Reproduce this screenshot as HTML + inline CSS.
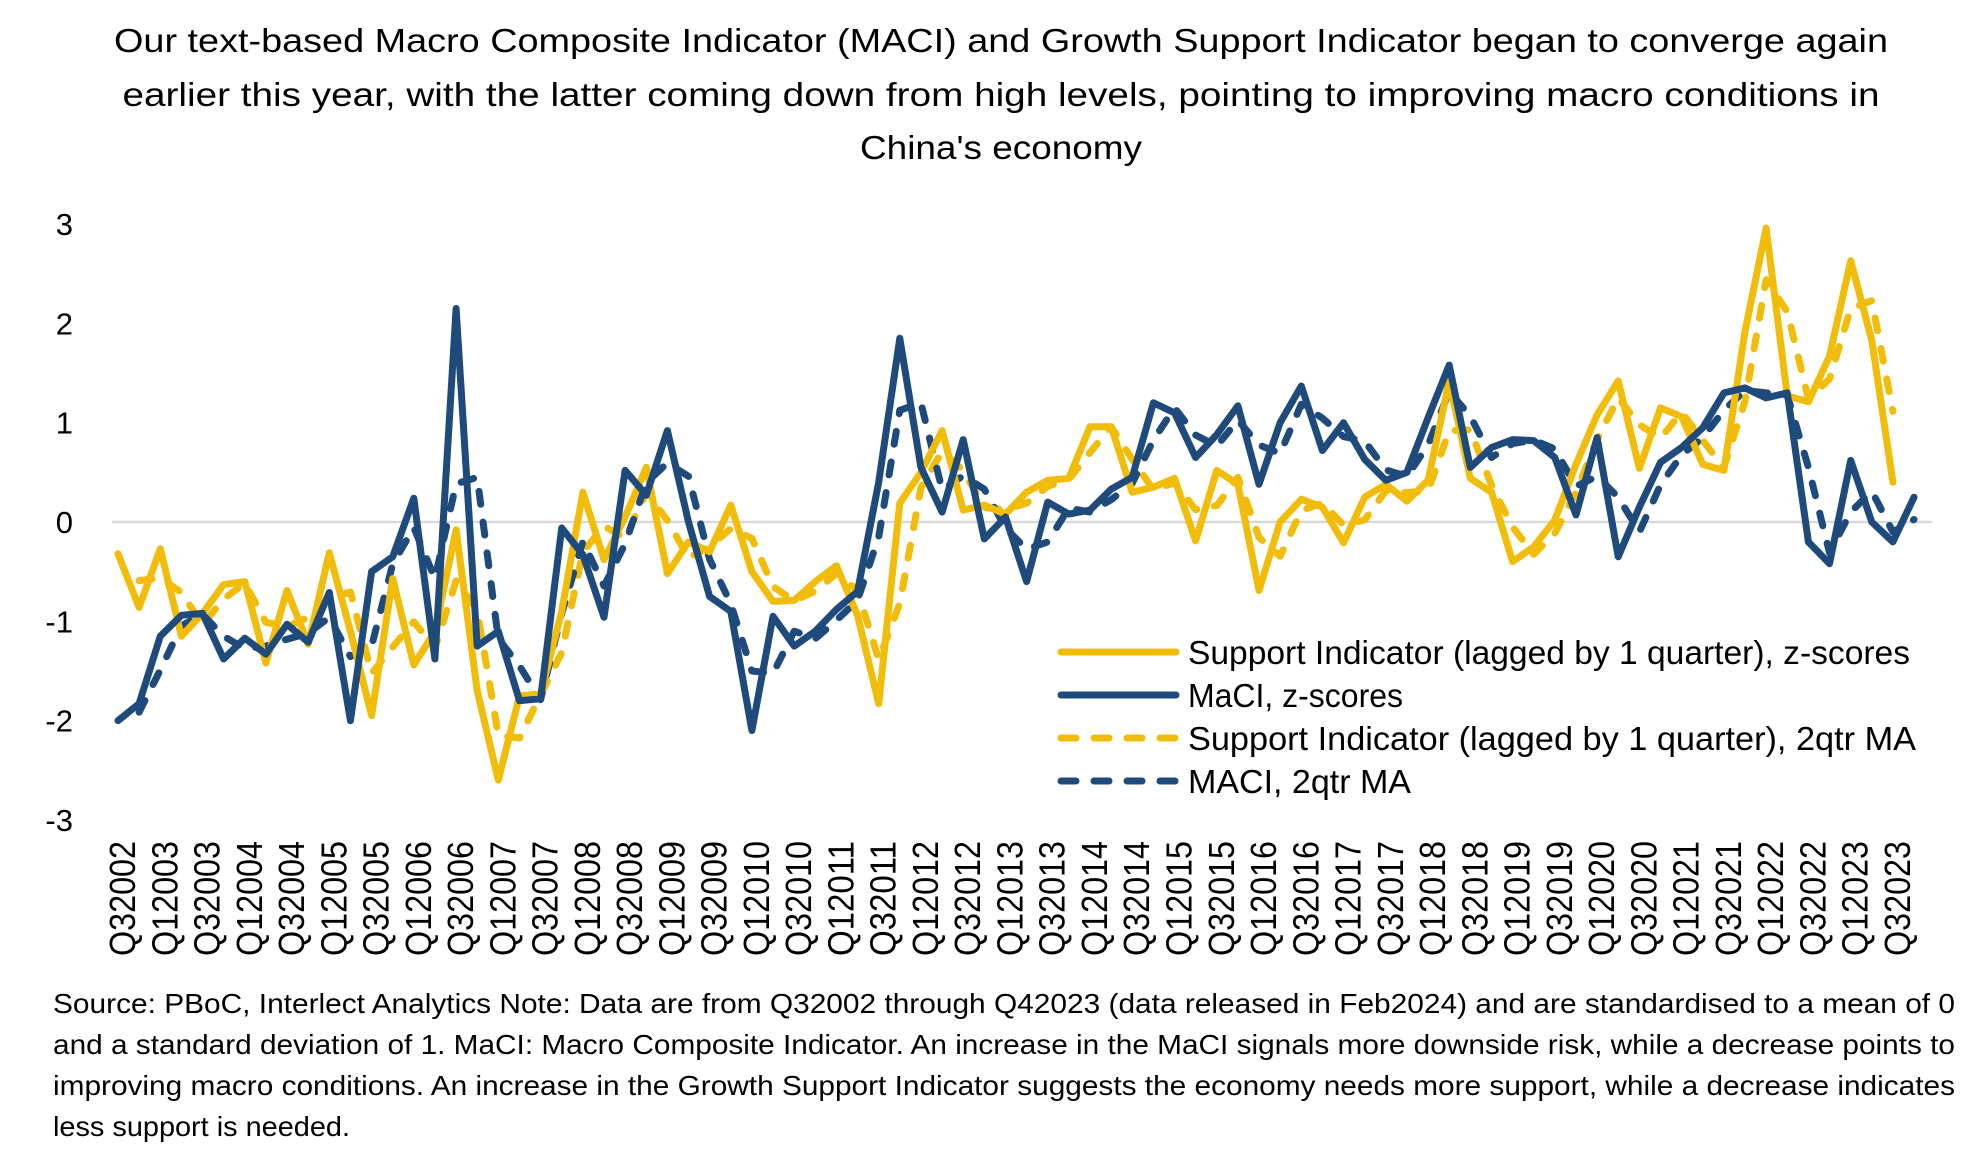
<!DOCTYPE html>
<html><head><meta charset="utf-8"><style>
html,body{margin:0;padding:0;background:#fff;}
svg{display:block;font-family:"Liberation Sans",Carlito,sans-serif;}
</style></head><body>
<svg id="chart" width="1980" height="1162" viewBox="0 0 1980 1162" xmlns="http://www.w3.org/2000/svg">
<g font-size="33" fill="#000" text-anchor="middle">
<text x="1001" y="52" textLength="1774" lengthAdjust="spacingAndGlyphs">Our text-based Macro Composite Indicator (MACI) and Growth Support Indicator began to converge again</text>
<text x="1001" y="106" textLength="1757" lengthAdjust="spacingAndGlyphs">earlier this year, with the latter coming down from high levels, pointing to improving macro conditions in</text>
<text x="1001" y="159" textLength="282" lengthAdjust="spacingAndGlyphs">China's economy</text>
</g>
<line x1="112" x2="1932" y1="522" y2="522" stroke="#D9D9D9" stroke-width="2.5"/>
<g id="yticks"></g>
<g id="xticks"></g>
<g id="series"></g>
<g font-size="33" fill="#000">
<g>
<line x1="1061" x2="1176" y1="652" y2="652" stroke="#F2BC0B" stroke-width="7" stroke-linecap="round"/>
<text x="1188" y="664" textLength="722" lengthAdjust="spacingAndGlyphs">Support Indicator (lagged by 1 quarter), z-scores</text></g>
<g>
<line x1="1061" x2="1176" y1="695" y2="695" stroke="#1F4A7C" stroke-width="7" stroke-linecap="round"/>
<text x="1188" y="707" textLength="215" lengthAdjust="spacingAndGlyphs">MaCI, z-scores</text></g>
<g>
<line x1="1061" x2="1176" y1="738" y2="738" stroke="#F2BC0B" stroke-width="7" stroke-linecap="round" stroke-dasharray="15 18"/>
<text x="1188" y="750" textLength="728" lengthAdjust="spacingAndGlyphs">Support Indicator (lagged by 1 quarter), 2qtr MA</text></g>
<g>
<line x1="1061" x2="1176" y1="781" y2="781" stroke="#1F4A7C" stroke-width="7" stroke-linecap="round" stroke-dasharray="15 18"/>
<text x="1188" y="793" textLength="223" lengthAdjust="spacingAndGlyphs">MACI, 2qtr MA</text></g>
</g>
<g font-size="28" fill="#000">
<text x="53" y="1013" textLength="1902" lengthAdjust="spacingAndGlyphs">Source: PBoC, Interlect Analytics  Note: Data are from Q32002 through Q42023 (data released in Feb2024) and are standardised to a mean of 0</text>
<text x="53" y="1054" textLength="1902" lengthAdjust="spacingAndGlyphs">and a standard deviation of 1. MaCI: Macro Composite Indicator. An increase in the MaCI signals more downside risk, while a decrease points to</text>
<text x="53" y="1095" textLength="1902" lengthAdjust="spacingAndGlyphs">improving macro conditions. An increase in the Growth Support Indicator suggests the economy needs more support, while a decrease indicates</text>
<text x="53" y="1136" textLength="297" lengthAdjust="spacingAndGlyphs">less support is needed.</text>
</g>
</svg>
<script>
const yTickValues = [3, 2, 1, 0, -1, -2, -3];
const support = [-0.32,-0.86,-0.27,-1.15,-0.92,-0.63,-0.6,-1.42,-0.69,-1.23,-0.31,-1.1,-1.95,-0.57,-1.44,-1.1,-0.08,-1.7,-2.6,-1.75,-1.73,-0.9,0.3,-0.38,0.05,0.55,-0.52,-0.2,-0.3,0.17,-0.5,-0.8,-0.79,-0.6,-0.44,-0.94,-1.83,0.19,0.5,0.92,0.12,0.17,0.08,0.3,0.42,0.44,0.96,0.96,0.3,0.35,0.44,-0.19,0.52,0.38,-0.69,0.0,0.23,0.15,-0.21,0.25,0.38,0.21,0.42,1.42,0.44,0.3,-0.4,-0.25,0.02,0.58,1.08,1.42,0.54,1.15,1.06,0.58,0.52,1.92,2.96,1.27,1.21,1.67,2.63,1.83,0.4,null];
const maci = [-2.0,-1.83,-1.15,-0.94,-0.92,-1.38,-1.17,-1.33,-1.03,-1.21,-0.71,-2.0,-0.5,-0.35,0.24,-1.38,2.15,-1.25,-1.1,-1.8,-1.78,-0.06,-0.33,-0.96,0.52,0.27,0.92,0.0,-0.75,-0.9,-2.1,-0.95,-1.25,-1.1,-0.88,-0.7,0.4,1.85,0.55,0.1,0.83,-0.17,0.05,-0.6,0.2,0.08,0.12,0.33,0.45,1.2,1.1,0.65,0.88,1.17,0.38,1.0,1.37,0.72,1.0,0.63,0.42,0.5,1.05,1.58,0.55,0.75,0.83,0.82,0.65,0.07,0.85,-0.35,0.15,0.6,0.75,0.95,1.3,1.35,1.25,1.3,-0.2,-0.42,0.62,0.0,-0.2,0.25];
const supportMA = [null,-0.59,-0.565,-0.71,-1.035,-0.775,-0.615,-1.01,-1.055,-0.96,-0.77,-0.705,-1.525,-1.26,-1.005,-1.27,-0.59,-0.89,-2.15,-2.175,-1.74,-1.315,-0.3,-0.04,-0.165,0.3,0.015,-0.36,-0.25,-0.065,-0.165,-0.65,-0.795,-0.695,-0.52,-0.69,-1.385,-0.82,0.345,0.71,0.52,0.145,0.125,0.19,0.36,0.43,0.7,0.96,0.63,0.325,0.395,0.125,0.165,0.45,-0.155,-0.345,0.115,0.19,-0.03,0.02,0.315,0.295,0.315,0.92,0.93,0.37,-0.05,-0.325,-0.115,0.3,0.83,1.25,0.98,0.845,1.105,0.82,0.55,1.22,2.44,2.115,1.24,1.44,2.15,2.23,1.115,null];
const maciMA = [null,-1.915,-1.49,-1.045,-0.93,-1.15,-1.275,-1.25,-1.18,-1.12,-0.96,-1.355,-1.25,-0.425,-0.055,-0.57,0.385,0.45,-1.175,-1.45,-1.79,-0.92,-0.195,-0.645,-0.22,0.395,0.595,0.46,-0.375,-0.825,-1.5,-1.525,-1.1,-1.175,-0.99,-0.79,-0.15,1.125,1.2,0.325,0.465,0.33,-0.06,-0.275,-0.2,0.14,0.1,0.225,0.39,0.825,1.15,0.875,0.765,1.025,0.775,0.69,1.185,1.045,0.86,0.815,0.525,0.46,0.775,1.315,1.065,0.65,0.79,0.825,0.735,0.36,0.46,0.25,-0.1,0.375,0.675,0.85,1.125,1.325,1.3,1.275,0.55,-0.31,0.1,0.31,-0.1,0.025];
const startYear = 2002, startQuarter = 3;

const NS = 'http://www.w3.org/2000/svg';
const n = maci.length;
const X0 = 118, XSTEP = 21.13, Y0 = 522, YUNIT = 99.3;
function xPos(i){ return X0 + i * XSTEP; }
function yPos(v){ return Y0 - v * YUNIT; }
function quarterLabel(i){
  const t = (startQuarter - 1) + i;
  return 'Q' + (t % 4 + 1) + (startYear + Math.floor(t / 4));
}

const yG = document.getElementById('yticks');
yTickValues.forEach(v => {
  const t = document.createElementNS(NS, 'text');
  
  
  t.setAttribute('x', 73);
  t.setAttribute('y', yPos(v) + 11);
  t.setAttribute('text-anchor', 'end');
  t.setAttribute('font-size', '31');
  t.textContent = String(v);
  yG.appendChild(t);
});

const xG = document.getElementById('xticks');
for (let i = 0; i < n; i += 2) {
  const t = document.createElementNS(NS, 'text');
  
  
  const bx = xPos(i) + 17, by = 841;
  t.setAttribute('x', bx);
  t.setAttribute('y', by);
  t.setAttribute('text-anchor', 'end');
  t.setAttribute('font-size', '36');
  t.setAttribute('textLength', '115');
  t.setAttribute('lengthAdjust', 'spacingAndGlyphs');
  t.setAttribute('transform', 'rotate(-90 ' + bx + ' ' + by + ')');
  t.textContent = quarterLabel(i);
  xG.appendChild(t);
}

function pathFor(arr){
  let d = '', pen = false;
  arr.forEach((v, i) => {
    if (v === null || v === undefined) { pen = false; return; }
    d += (pen ? 'L' : 'M') + xPos(i).toFixed(1) + ' ' + yPos(v).toFixed(1) + ' ';
    pen = true;
  });
  return d;
}
const sG = document.getElementById('series');
function drawSeries(arr, color, dashed, name){
  const p = document.createElementNS(NS, 'path');
  
  
  p.setAttribute('d', pathFor(arr));
  p.setAttribute('fill', 'none');
  p.setAttribute('stroke', color);
  p.setAttribute('stroke-width', '7');
  p.setAttribute('stroke-linejoin', 'round');
  p.setAttribute('stroke-linecap', 'round');
  if (dashed) p.setAttribute('stroke-dasharray', '13 18');
  sG.appendChild(p);
}
drawSeries(supportMA, '#F2BC0B', true, 'support-ma-line');
drawSeries(maciMA, '#1F4A7C', true, 'maci-ma-line');
drawSeries(support, '#F2BC0B', false, 'support-zscore-line');
drawSeries(maci, '#1F4A7C', false, 'maci-zscore-line');
</script>
</body></html>
